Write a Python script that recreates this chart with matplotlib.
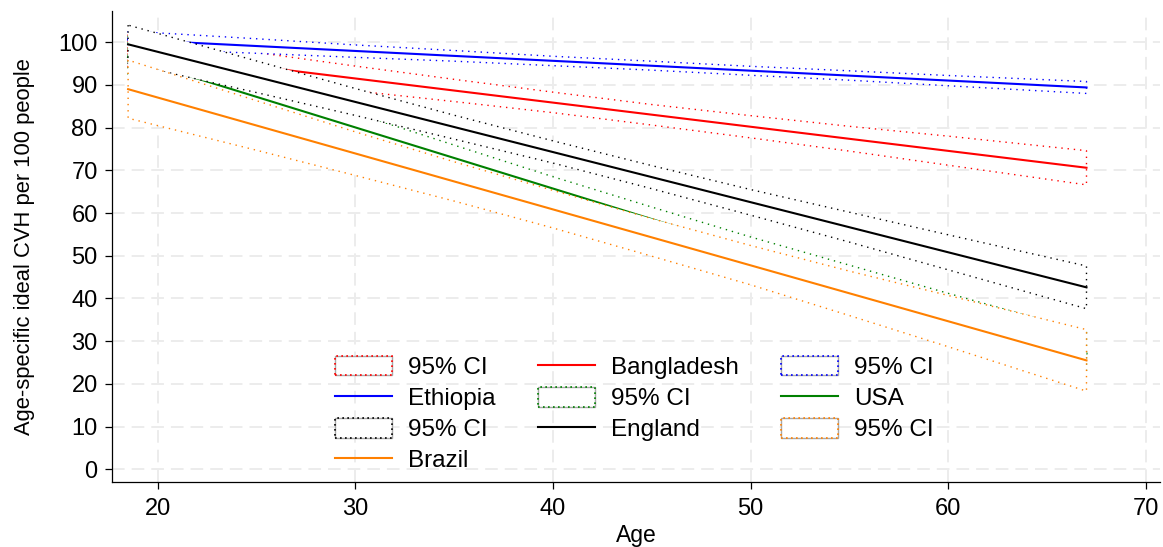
import matplotlib
matplotlib.use("Agg")
import matplotlib.pyplot as plt
from matplotlib.lines import Line2D
from matplotlib.patches import Patch
from matplotlib.legend_handler import HandlerTuple

plt.rcParams['font.family'] = ['Liberation Sans', 'DejaVu Sans']

# fitted lines: value at youngest and oldest age
line_ages = [18.5, 67]
bangladesh = [98.0, 70.6]
ethiopia = [100.6, 89.4]
usa = [96.5, 27.1]
england = [99.5, 42.6]
brazil = [89.0, 25.5]

ci_ages = [18.5, 25, 30, 35, 40, 45, 50, 55, 60, 67]
bangladesh_lo = [94.2, 91.0, 88.6, 86.1, 83.5, 80.6, 77.6, 74.5, 71.2, 66.6]
bangladesh_hi = [101.8, 97.6, 94.4, 91.3, 88.3, 85.4, 82.8, 80.3, 78.0, 74.6]
ethiopia_lo = [98.6, 97.4, 96.45, 95.55, 94.5, 93.45, 92.25, 91.1, 89.8, 88.0]
ethiopia_hi = [102.6, 100.8, 99.35, 98.05, 96.7, 95.55, 94.35, 93.3, 92.2, 90.8]
usa_lo = [91.5, 83.2, 76.6, 69.9, 62.9, 55.8, 48.4, 40.8, 33.0, 22.1]
usa_hi = [101.5, 91.2, 83.4, 75.9, 68.5, 61.4, 54.4, 47.8, 41.2, 32.1]
england_lo = [95.0, 88.2, 82.85, 77.3, 71.7, 65.7, 59.5, 53.2, 46.7, 37.6]
england_hi = [104.0, 95.6, 89.15, 82.9, 76.9, 71.1, 65.5, 60.2, 54.9, 47.6]
brazil_lo = [82.2, 74.7, 68.8, 62.8, 56.5, 49.9, 43.2, 36.0, 28.7, 18.3]
brazil_hi = [95.8, 86.3, 79.0, 72.0, 65.3, 58.7, 52.4, 46.4, 40.7, 32.7]

# drawing order matters: each white CI band hides what was drawn before it
series = [
    ("Bangladesh", "#ff0000", bangladesh, bangladesh_lo, bangladesh_hi),
    ("Ethiopia", "#0000ff", ethiopia, ethiopia_lo, ethiopia_hi),
    ("USA", "#008000", usa, usa_lo, usa_hi),
    ("England", "#000000", england, england_lo, england_hi),
    ("Brazil", "#ff8000", brazil, brazil_lo, brazil_hi),
]

fig = plt.figure(figsize=(11.63, 5.47), dpi=100)
ax = fig.add_axes([112.3 / 1163, 1 - 482.3 / 547, 1047.7 / 1163, 471.3 / 547])

dots = (0, (1, 3.5))
handles = []
for i, (name, col, y, lo, hi) in enumerate(series):
    ax.fill_between(ci_ages, lo, hi, facecolor="white", edgecolor=col,
                    linestyle=dots, linewidth=1.0, zorder=2 + 2 * i)
    ax.plot(line_ages, y, color=col, lw=1.5, zorder=3 + 2 * i)
    ci_key = (Patch(facecolor="white", edgecolor="#a8a8a8", lw=1.0),
              Patch(facecolor="none", edgecolor=col, linestyle=(0, (1, 2)), lw=1.2))
    handles.append((ci_key, "95% CI"))
    handles.append((Line2D([], [], color=col, lw=1.5), name))

# Stata fills the legend row by row; matplotlib fills column by column
order = [0, 3, 6, 9, 1, 4, 7, 2, 5, 8]
hs = [handles[k][0] for k in order]
ls = [handles[k][1] for k in order]

ax.set_xlim(17.7, 70.72)
ax.set_ylim(-3.04, 107.3)
ax.set_xticks(range(20, 71, 10))
ax.set_yticks(range(0, 101, 10))
ax.grid(True, color="#ececec", lw=1.4, linestyle=(0, (6.5, 3.6)))
ax.set_axisbelow(True)
for side in ["top", "right"]:
    ax.spines[side].set_visible(False)
for side in ["left", "bottom"]:
    ax.spines[side].set_linewidth(0.9)
ax.tick_params(axis="both", length=5, width=0.9, labelsize=17, colors="black")
ax.tick_params(axis="y", pad=5.5)
ax.tick_params(axis="x", pad=6)

ax.set_xlabel("Age", fontsize=16.5, labelpad=3.2)
ax.set_ylabel("Age-specific ideal CVH per 100 people", fontsize=15.8, labelpad=17)

leg = ax.legend(hs, ls, ncol=3, loc="upper left",
                bbox_to_anchor=(335 / 1163, 1 - 356 / 547), bbox_transform=fig.transFigure,
                frameon=False, fontsize=17.5, borderpad=0, borderaxespad=0,
                handlelength=2.35, handleheight=0.85, handletextpad=0.65,
                columnspacing=1.75, labelspacing=0.33,
                handler_map={tuple: HandlerTuple(ndivide=1, pad=0)})
leg.set_zorder(100)

fig.savefig("out.png", dpi=100)
